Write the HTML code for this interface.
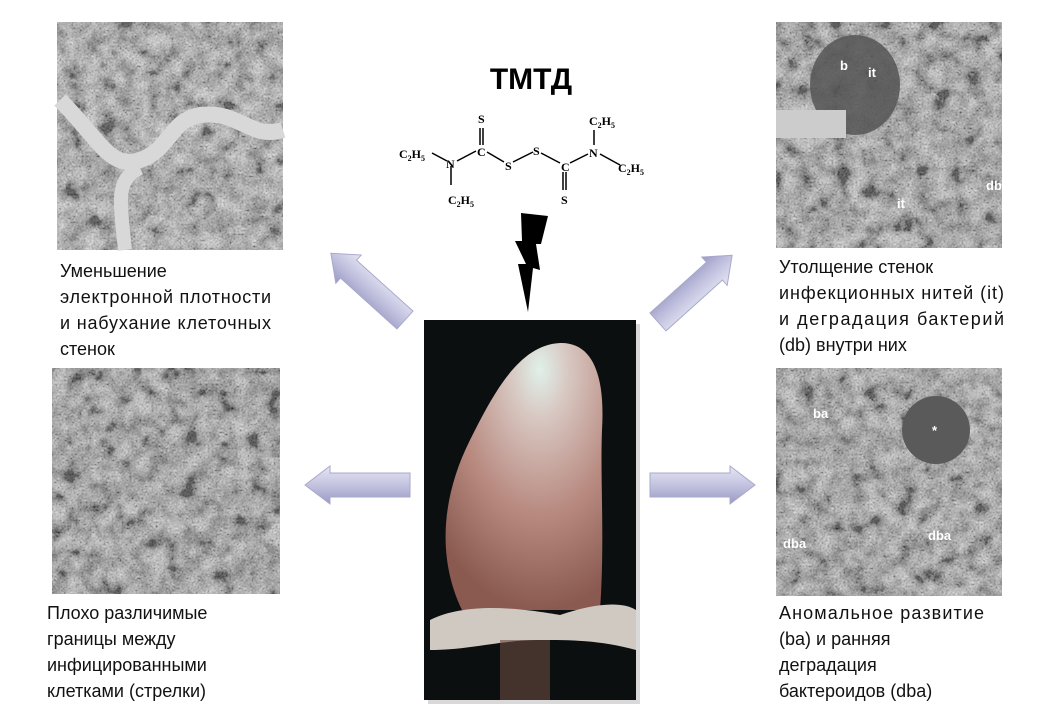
<!DOCTYPE html>
<html><head><meta charset="utf-8"><style>
html,body{margin:0;padding:0;background:#fff;}
svg{display:block;}
.l{font-family:"Liberation Sans",sans-serif;font-size:18px;fill:#111;}
.c{font-family:"Liberation Serif",serif;font-size:12px;font-weight:bold;fill:#000;}
.s{font-family:"Liberation Serif",serif;font-size:8px;font-weight:bold;fill:#000;}
.lab{font-family:"Liberation Sans",sans-serif;font-size:13px;font-weight:bold;fill:#fff;}
</style></head><body>
<svg width="1040" height="720" viewBox="0 0 1040 720" xmlns="http://www.w3.org/2000/svg">
<defs>
<filter id="tex" x="0" y="0" width="100%" height="100%">
<feTurbulence type="fractalNoise" baseFrequency="0.06" numOctaves="5" seed="7"/>
<feColorMatrix type="matrix" values="0.33 0.33 0.33 0 0  0.33 0.33 0.33 0 0  0.33 0.33 0.33 0 0  0 0 0 0 1"/>
<feComponentTransfer><feFuncR type="linear" slope="3.5" intercept="-1.25"/><feFuncG type="linear" slope="3.5" intercept="-1.25"/><feFuncB type="linear" slope="3.5" intercept="-1.25"/></feComponentTransfer>
</filter>
<filter id="tex2" x="0" y="0" width="100%" height="100%">
<feTurbulence type="fractalNoise" baseFrequency="0.5" numOctaves="2" seed="2"/>
<feColorMatrix type="matrix" values="0.33 0.33 0.33 0 0  0.33 0.33 0.33 0 0  0.33 0.33 0.33 0 0  0 0 0 0 1"/>
<feComponentTransfer><feFuncR type="linear" slope="2.2" intercept="-0.6"/><feFuncG type="linear" slope="2.2" intercept="-0.6"/><feFuncB type="linear" slope="2.2" intercept="-0.6"/></feComponentTransfer>
</filter>
<linearGradient id="ag" x1="0" y1="0" x2="0" y2="1"><stop offset="0" stop-color="#e6e6f4"/><stop offset="0.5" stop-color="#c3c3e0"/><stop offset="1" stop-color="#9a9ac4"/></linearGradient>
<radialGradient id="nod" cx="0.6" cy="0.1" r="0.9"><stop offset="0" stop-color="#e0f0ea"/><stop offset="0.2" stop-color="#d8c8c2"/><stop offset="0.6" stop-color="#b88a80"/><stop offset="1" stop-color="#8a5a50"/></radialGradient>
<g id="arr"><polygon points="0,-12 -80,-12 -80,-19 -105,0 -80,19 -80,12 0,12" fill="url(#ag)" stroke="#a8a8cc" stroke-width="1"/></g>
</defs>
<!-- micrographs -->
<g>
<rect x="57" y="22" width="226" height="228" fill="#7a7a7a"/>
<rect x="57" y="22" width="226" height="228" filter="url(#tex)" opacity="0.65"/>
<rect x="57" y="22" width="226" height="228" filter="url(#tex2)" opacity="0.4"/>
<path d="M60,100 C100,140 110,170 140,160 C170,150 170,120 200,115 C240,110 250,140 283,130" stroke="#d8d8d8" stroke-width="16" fill="none"/>
<path d="M125,250 C120,200 115,180 140,168" stroke="#d8d8d8" stroke-width="14" fill="none"/>
</g>
<rect x="52" y="368" width="228" height="226" fill="#606060"/>
<rect x="52" y="368" width="228" height="226" filter="url(#tex)" opacity="0.65"/>
<rect x="52" y="368" width="228" height="226" filter="url(#tex2)" opacity="0.4"/>
<rect x="776" y="22" width="226" height="226" fill="#666"/>
<rect x="776" y="22" width="226" height="226" filter="url(#tex)" opacity="0.65"/>
<rect x="776" y="22" width="226" height="226" filter="url(#tex2)" opacity="0.4"/>
<ellipse cx="855" cy="85" rx="45" ry="50" fill="#555" opacity="0.85"/>
<rect x="776" y="110" width="70" height="28" fill="#ccc"/>
<text class="lab" x="840" y="70">b</text><text class="lab" x="868" y="77">it</text>
<text class="lab" x="986" y="190">db</text><text class="lab" x="897" y="208">it</text>
<rect x="776" y="368" width="226" height="228" fill="#666"/>
<rect x="776" y="368" width="226" height="228" filter="url(#tex)" opacity="0.65"/>
<rect x="776" y="368" width="226" height="228" filter="url(#tex2)" opacity="0.4"/>
<circle cx="936" cy="430" r="34" fill="#5a5a5a"/>
<text class="lab" x="813" y="418">ba</text><text class="lab" x="932" y="435">*</text>
<text class="lab" x="783" y="548">dba</text><text class="lab" x="928" y="540">dba</text>
<!-- center photo -->
<rect x="428" y="324" width="212" height="380" fill="#000" opacity="0.15"/>
<rect x="424" y="320" width="212" height="380" fill="#0c0f10"/>
<path d="M462,610 C438,560 440,500 470,440 C495,390 520,345 560,343 C595,342 605,380 602,430 C600,480 605,540 600,610 Z" fill="url(#nod)"/>
<path d="M430,620 C470,600 530,610 560,615 C590,605 620,600 636,610 L636,650 C600,640 570,640 540,640 C500,640 470,650 430,650 Z" fill="#cfc9c1"/>
<rect x="500" y="640" width="50" height="60" fill="#6a4a40" opacity="0.6"/>
<!-- arrows -->
<use href="#arr" transform="translate(410,485)"/>
<use href="#arr" transform="translate(650,485) scale(-1,1)"/>
<use href="#arr" transform="translate(405,320) rotate(42) scale(0.95,1)"/>
<use href="#arr" transform="translate(658,322) rotate(138) scale(0.95,1)"/>
<!-- lightning -->
<polygon points="521,213 548,216 541,244 536,244 540,270 533,268 528,312 518,264 526,264 515,241 522,241" fill="#000"/>
<!-- title & structure -->
<text x="531" y="89" text-anchor="middle" font-family="Liberation Sans,sans-serif" font-size="30" font-weight="bold">ТМТД</text>
<g stroke="#000" stroke-width="1.5" fill="none">
<line x1="432" y1="153" x2="447" y2="161"/><line x1="457" y1="161" x2="476" y2="151"/>
<line x1="451" y1="166" x2="451" y2="185"/>
<line x1="480" y1="128" x2="480" y2="145"/><line x1="483" y1="128" x2="483" y2="145"/>
<line x1="487" y1="152" x2="504" y2="162"/><line x1="513" y1="162" x2="533" y2="152"/>
<line x1="541" y1="153" x2="560" y2="163"/>
<line x1="563" y1="172" x2="563" y2="190"/><line x1="566" y1="172" x2="566" y2="190"/>
<line x1="570" y1="163" x2="588" y2="154"/>
<line x1="594" y1="130" x2="594" y2="145"/><line x1="600" y1="154" x2="620" y2="165"/>
</g>
<text class="c" x="399" y="158">C<tspan class="s" dy="3">2</tspan><tspan dy="-3">H</tspan><tspan class="s" dy="3">5</tspan></text>
<text class="c" x="446" y="168">N</text>
<text class="c" x="448" y="204">C<tspan class="s" dy="3">2</tspan><tspan dy="-3">H</tspan><tspan class="s" dy="3">5</tspan></text>
<text class="c" x="478" y="123">S</text>
<text class="c" x="477" y="156">C</text>
<text class="c" x="505" y="170">S</text>
<text class="c" x="533" y="155">S</text>
<text class="c" x="561" y="171">C</text>
<text class="c" x="561" y="204">S</text>
<text class="c" x="589" y="157">N</text>
<text class="c" x="589" y="125">C<tspan class="s" dy="3">2</tspan><tspan dy="-3">H</tspan><tspan class="s" dy="3">5</tspan></text>
<text class="c" x="618" y="172">C<tspan class="s" dy="3">2</tspan><tspan dy="-3">H</tspan><tspan class="s" dy="3">5</tspan></text>
<!-- labels -->
<text class="l" x="60" y="277">Уменьшение</text>
<text class="l" x="60" y="303" textLength="211" lengthAdjust="spacing">электронной плотности</text>
<text class="l" x="60" y="329" textLength="211" lengthAdjust="spacing">и набухание клеточных</text>
<text class="l" x="60" y="355">стенок</text>
<text class="l" x="47" y="619">Плохо различимые</text>
<text class="l" x="47" y="645">границы между</text>
<text class="l" x="47" y="671">инфицированными</text>
<text class="l" x="47" y="697">клетками (стрелки)</text>
<text class="l" x="779" y="273">Утолщение стенок</text>
<text class="l" x="779" y="299" textLength="225" lengthAdjust="spacing">инфекционных нитей (it)</text>
<text class="l" x="779" y="325" textLength="225" lengthAdjust="spacing">и деградация бактерий</text>
<text class="l" x="779" y="351">(db) внутри них</text>
<text class="l" x="779" y="619" textLength="205" lengthAdjust="spacing">Аномальное развитие</text>
<text class="l" x="779" y="645">(ba) и ранняя</text>
<text class="l" x="779" y="671">деградация</text>
<text class="l" x="779" y="697">бактероидов (dba)</text>
</svg>
</body></html>
